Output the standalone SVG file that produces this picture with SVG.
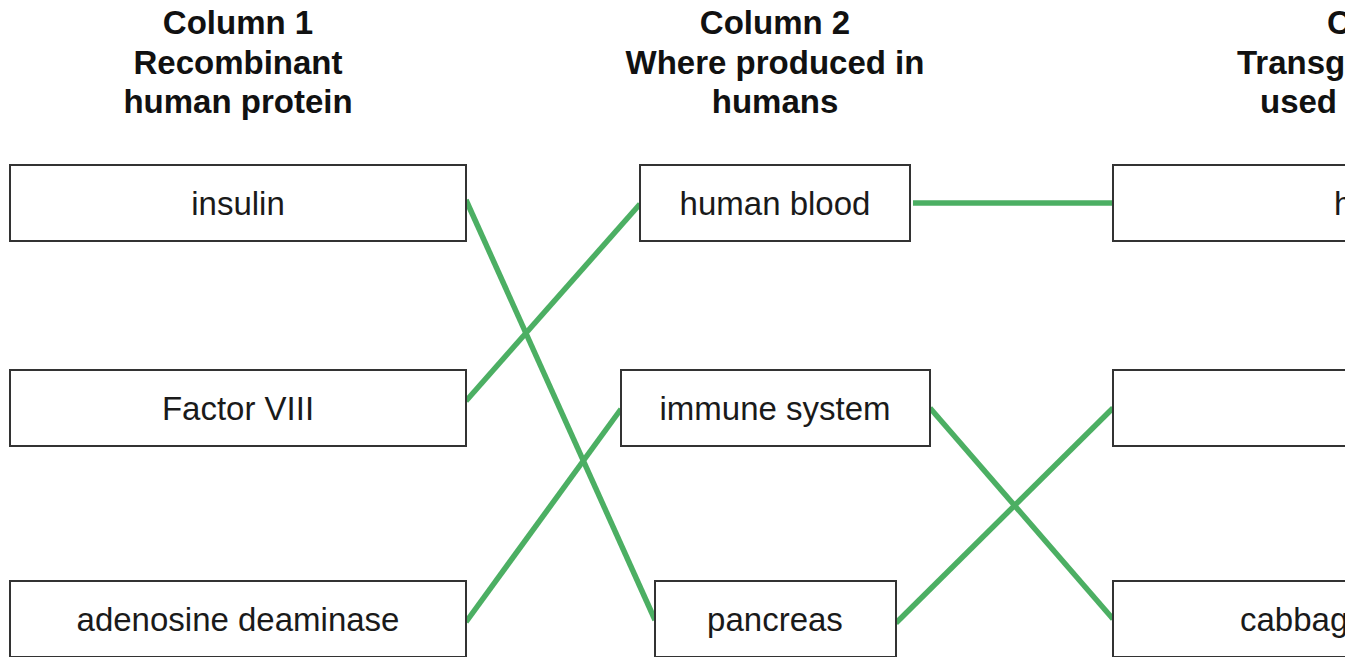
<svg xmlns="http://www.w3.org/2000/svg" width="1345" height="657" viewBox="0 0 1345 657">
<style>
.box{fill:#fff;stroke:#333;stroke-width:2}
.t{font-family:"Liberation Sans",Arial,sans-serif;font-size:33px;fill:#1a1a1a}
.h{font-family:"Liberation Sans",Arial,sans-serif;font-size:33px;font-weight:bold;fill:#111}
.c{stroke:#4caf63;stroke-width:5.5;stroke-linecap:butt;fill:none}
</style>
<rect width="1345" height="657" fill="#fff"/>
<g id="headers">
<text class="h" x="238" y="34" text-anchor="middle">Column 1</text>
<text class="h" x="238" y="74" text-anchor="middle">Recombinant</text>
<text class="h" x="238" y="113" text-anchor="middle">human protein</text>
<text class="h" x="775" y="34" text-anchor="middle">Column 2</text>
<text class="h" x="775" y="74" text-anchor="middle">Where produced in</text>
<text class="h" x="775" y="113" text-anchor="middle">humans</text>
<text class="h" x="1327" y="34">C</text>
<text class="h" x="1237" y="74">Transg</text>
<text class="h" x="1260" y="113">used</text>
</g>
<g id="connectors">
<line class="c" x1="466" y1="200" x2="655" y2="620"/>
<line class="c" x1="466" y1="401" x2="640" y2="204"/>
<line class="c" x1="466" y1="622" x2="621" y2="409"/>
<line class="c" x1="913" y1="203" x2="1113" y2="203"/>
<line class="c" x1="930" y1="408" x2="1113" y2="619"/>
<line class="c" x1="896" y1="623" x2="1113" y2="408"/>
</g>
<g id="n-insulin"><rect class="box" x="10" y="165" width="456" height="76"/><text class="t" x="238" y="215" text-anchor="middle">insulin</text></g>
<g id="n-factor"><rect class="box" x="10" y="370" width="456" height="76"/><text class="t" x="238" y="420" text-anchor="middle">Factor VIII</text></g>
<g id="n-ada"><rect class="box" x="10" y="581" width="456" height="76"/><text class="t" x="238" y="631" text-anchor="middle">adenosine deaminase</text></g>
<g id="n-blood"><rect class="box" x="640" y="165" width="270" height="76"/><text class="t" x="775" y="215" text-anchor="middle">human blood</text></g>
<g id="n-immune"><rect class="box" x="621" y="370" width="309" height="76"/><text class="t" x="775" y="420" text-anchor="middle">immune system</text></g>
<g id="n-pancreas"><rect class="box" x="655" y="581" width="241" height="76"/><text class="t" x="775" y="631" text-anchor="middle">pancreas</text></g>
<g id="n-c3a"><rect class="box" x="1113" y="165" width="300" height="76"/><text class="t" x="1334" y="215">h</text></g>
<g id="n-c3b"><rect class="box" x="1113" y="370" width="300" height="76"/></g>
<g id="n-c3c"><rect class="box" x="1113" y="581" width="300" height="76"/><text class="t" x="1240" y="631">cabbag</text></g>
</svg>
